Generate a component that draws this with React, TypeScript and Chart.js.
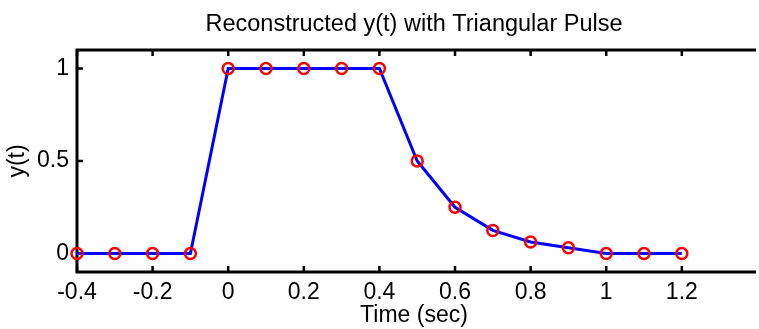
import React, { useEffect, useRef } from "react";
import { Chart, registerables } from "chart.js";

Chart.register(...registerables);

// Data
const timeSec = [-0.4, -0.3, -0.2, -0.1, 0, 0.1, 0.2, 0.3, 0.4, 0.5, 0.6, 0.7, 0.8, 0.9, 1.0, 1.1, 1.2];
const yValues = [0, 0, 0, 0, 1, 1, 1, 1, 1, 0.5, 0.25, 0.125, 0.0625, 0.03125, 0, 0, 0];
const xTicks = [-0.4, -0.2, 0, 0.2, 0.4, 0.6, 0.8, 1, 1.2];
const yTicks = [0, 0.5, 1];

const FONT = "'Liberation Sans', Arial, Helvetica, sans-serif";

const fmt = (v: number) => String(Math.round(v * 1000) / 1000);

const matlabAxes = {
  id: "matlabAxes",
  beforeDatasetsDraw(chart: any) {
    const { ctx, chartArea, scales } = chart;
    const { left, right, top, bottom } = chartArea;
    const x = scales.x;
    const y = scales.y;
    ctx.save();
    ctx.strokeStyle = "#000";
    ctx.lineCap = "butt";
    ctx.lineWidth = 3;
    ctx.beginPath();
    ctx.moveTo(left - 1.5, top);
    ctx.lineTo(right + 5, top);
    ctx.moveTo(left, top - 1.5);
    ctx.lineTo(left, bottom + 1.5);
    ctx.moveTo(left - 1.5, bottom);
    ctx.lineTo(right + 5, bottom);
    ctx.stroke();
    const tl = 6;
    ctx.lineWidth = 2.5;
    ctx.beginPath();
    xTicks.forEach((v) => {
      const px = x.getPixelForValue(v);
      ctx.moveTo(px, bottom);
      ctx.lineTo(px, bottom - tl);
      ctx.moveTo(px, top);
      ctx.lineTo(px, top + tl);
    });
    yTicks.forEach((v) => {
      const py = y.getPixelForValue(v);
      ctx.moveTo(left, py);
      ctx.lineTo(left + tl, py);
    });
    ctx.stroke();
    ctx.restore();
  },
};

export default function App() {
  const canvasRef = useRef<HTMLCanvasElement | null>(null);

  useEffect(() => {
    const canvas = canvasRef.current;
    if (!canvas) return;
    Chart.defaults.font.family = FONT;
    const chart = new Chart(canvas, {
      type: "line",
      data: {
        datasets: [
          {
            data: timeSec.map((t, i) => ({ x: t, y: yValues[i] })),
            borderColor: "#0000ff",
            borderWidth: 3,
            tension: 0,
            pointRadius: 5.5,
            pointHoverRadius: 5.5,
            pointBorderWidth: 2.5,
            pointBorderColor: "#ff0000",
            pointBackgroundColor: "rgba(0,0,0,0)",
            clip: false as any,
          },
        ],
      },
      options: {
        responsive: false,
        animation: false,
        events: [],
        layout: { padding: 0 },
        plugins: {
          legend: { display: false },
          tooltip: { enabled: false },
          title: {
            display: true,
            fullSize: false,
            text: "Reconstructed y(t) with Triangular Pulse",
            color: "#000",
            font: { family: FONT, size: 23.5, weight: "normal" as any, lineHeight: 1.2 },
            padding: { top: 10, bottom: 11.8 },
          },
        },
        scales: {
          x: {
            type: "linear",
            min: -0.4,
            max: 1.383,
            afterBuildTicks: (s: any) => {
              s.ticks = xTicks.map((v) => ({ value: v }));
            },
            afterFit: (s: any) => {
              s.height = 57;
            },
            grid: { display: false, drawTicks: false },
            border: { display: false },
            ticks: {
              color: "#000",
              font: { family: FONT, size: 23 },
              padding: 7,
              maxRotation: 0,
              autoSkip: false,
              callback: (v: any) => fmt(Number(v)),
            },
            title: {
              display: true,
              text: "Time (sec)",
              color: "#000",
              font: { family: FONT, size: 23 },
              padding: { top: 0, bottom: 0 },
            },
          },
          y: {
            type: "linear",
            min: -0.1,
            max: 1.1,
            afterBuildTicks: (s: any) => {
              s.ticks = yTicks.map((v) => ({ value: v }));
            },
            afterFit: (s: any) => {
              s.width = 77;
            },
            grid: { display: false, drawTicks: false },
            border: { display: false },
            ticks: {
              color: "#000",
              font: { family: FONT, size: 23 },
              padding: 8,
              autoSkip: false,
              callback: (v: any) => fmt(Number(v)),
            },
            title: {
              display: true,
              text: "y(t)",
              color: "#000",
              font: { family: FONT, size: 23 },
              padding: { top: 4, bottom: 0 },
            },
          },
        },
      },
      plugins: [matlabAxes],
    });
    return () => chart.destroy();
  }, []);

  return (
    <div style={{ position: "absolute", left: 0, top: 0, width: 759, height: 329, background: "#fff" }}>
      <canvas ref={canvasRef} width={759} height={329} style={{ display: "block", width: 759, height: 329 }} />
    </div>
  );
}
